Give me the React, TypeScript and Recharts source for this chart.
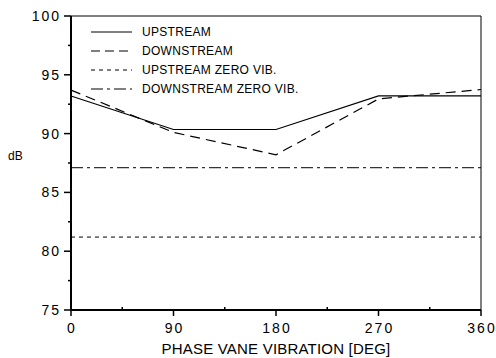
import { LineChart, Line, XAxis, YAxis, ReferenceLine } from 'recharts';

// values
const phase = [0, 90, 180, 270, 360];
const upstream = [93.2, 90.35, 90.35, 93.2, 93.2];
const downstream = [93.7, 90.1, 88.2, 92.95, 93.75];
const upstreamZeroVib = 81.2;
const downstreamZeroVib = 87.1;

const xTicks = [0, 45, 90, 135, 180, 225, 270, 315, 360];
const yTicks = [75, 77.5, 80, 82.5, 85, 87.5, 90, 92.5, 95, 97.5, 100];

const FONT = '"Liberation Sans", Arial, sans-serif';
const INK = '#000';

const legendItems = [
  { label: 'UPSTREAM', dash: undefined },
  { label: 'DOWNSTREAM', dash: '9 5' },
  { label: 'UPSTREAM ZERO VIB.', dash: '4 4' },
  { label: 'DOWNSTREAM ZERO VIB.', dash: '12 4 3 4' },
];

const data = phase.map((p, i) => ({ phase: p, up: upstream[i], down: downstream[i] }));

if (typeof document !== 'undefined') document.body.style.margin = '0';

const TICK_SIZE = 7;
const TICK_MARGIN = 3;

function YTick({ x, y, payload }: any) {
  const ax = x + TICK_SIZE + TICK_MARGIN;
  const major = payload.value % 5 === 0;
  return (
    <g>
      <line x1={ax - (major ? 7 : 3)} x2={ax} y1={y} y2={y} stroke={INK} strokeWidth={1.5} />
      {major && (
        <text x={ax - 10} y={y} dy="0.36em" textAnchor="end" fontSize={14} letterSpacing={2} fill={INK} fontFamily={FONT}>
          {payload.value}
        </text>
      )}
    </g>
  );
}

function XTick({ x, y, payload }: any) {
  const ay = y - TICK_SIZE - TICK_MARGIN;
  const major = payload.value % 90 === 0;
  return (
    <g>
      {major ? (
        <line x1={x} x2={x} y1={ay} y2={ay + 6} stroke={INK} strokeWidth={1.5} />
      ) : (
        <line x1={x} x2={x} y1={ay - 3} y2={ay} stroke={INK} strokeWidth={1.5} />
      )}
      {major && (
        <text x={x} dx={1} y={ay + 23} textAnchor="middle" fontSize={14} letterSpacing={2} fill={INK} fontFamily={FONT}>
          {payload.value}
        </text>
      )}
    </g>
  );
}

function LegendBox() {
  return (
    <div style={{ position: 'absolute', left: 91, top: 22, fontFamily: FONT, fontSize: 12, color: INK, letterSpacing: 0.3 }}>
      {legendItems.map((it) => (
        <div key={it.label} style={{ display: 'flex', alignItems: 'center', height: 19, whiteSpace: 'nowrap' }}>
          <svg width={41} height={6} style={{ marginRight: 10 }}>
            <line x1={0} x2={41} y1={3} y2={3} stroke={INK} strokeWidth={1} strokeDasharray={it.dash} />
          </svg>
          <span>{it.label}</span>
        </div>
      ))}
    </div>
  );
}

export default function App() {
  return (
    <div style={{ position: 'relative', width: 496, height: 358 }}>
      <LineChart width={496} height={358} data={data} margin={{ top: 16, right: 15, bottom: 0, left: 11 }}>
        <XAxis
          dataKey="phase"
          type="number"
          domain={[0, 360]}
          ticks={xTicks}
          interval={0}
          height={48}
          tick={<XTick />}
          tickSize={TICK_SIZE}
          tickMargin={TICK_MARGIN}
          tickLine={false}
          axisLine={{ stroke: INK, strokeWidth: 2 }}
          label={{ value: 'PHASE VANE VIBRATION [DEG]', position: 'insideBottom', offset: 4, fontSize: 15, letterSpacing: 0.2, fill: INK, fontFamily: FONT }}
        />
        <YAxis
          type="number"
          domain={[75, 100]}
          ticks={yTicks}
          interval={0}
          width={60}
          tick={<YTick />}
          tickSize={TICK_SIZE}
          tickMargin={TICK_MARGIN}
          tickLine={false}
          axisLine={{ stroke: INK, strokeWidth: 2 }}
          label={{ value: 'dB', position: 'insideLeft', offset: -3, dy: -7, fontSize: 12, fill: INK, fontFamily: FONT }}
        />
        <ReferenceLine y={100} stroke={INK} strokeWidth={1} />
        <ReferenceLine x={360} stroke={INK} strokeWidth={1} />
        <ReferenceLine y={upstreamZeroVib} stroke={INK} strokeWidth={1} strokeDasharray="4 4" />
        <ReferenceLine y={downstreamZeroVib} stroke={INK} strokeWidth={1} strokeDasharray="12 4 3 4" />
        <Line dataKey="up" stroke={INK} strokeWidth={1.2} dot={false} isAnimationActive={false} />
        <Line dataKey="down" stroke={INK} strokeWidth={1.2} strokeDasharray="10 6" dot={false} isAnimationActive={false} />
      </LineChart>
      <LegendBox />
    </div>
  );
}
